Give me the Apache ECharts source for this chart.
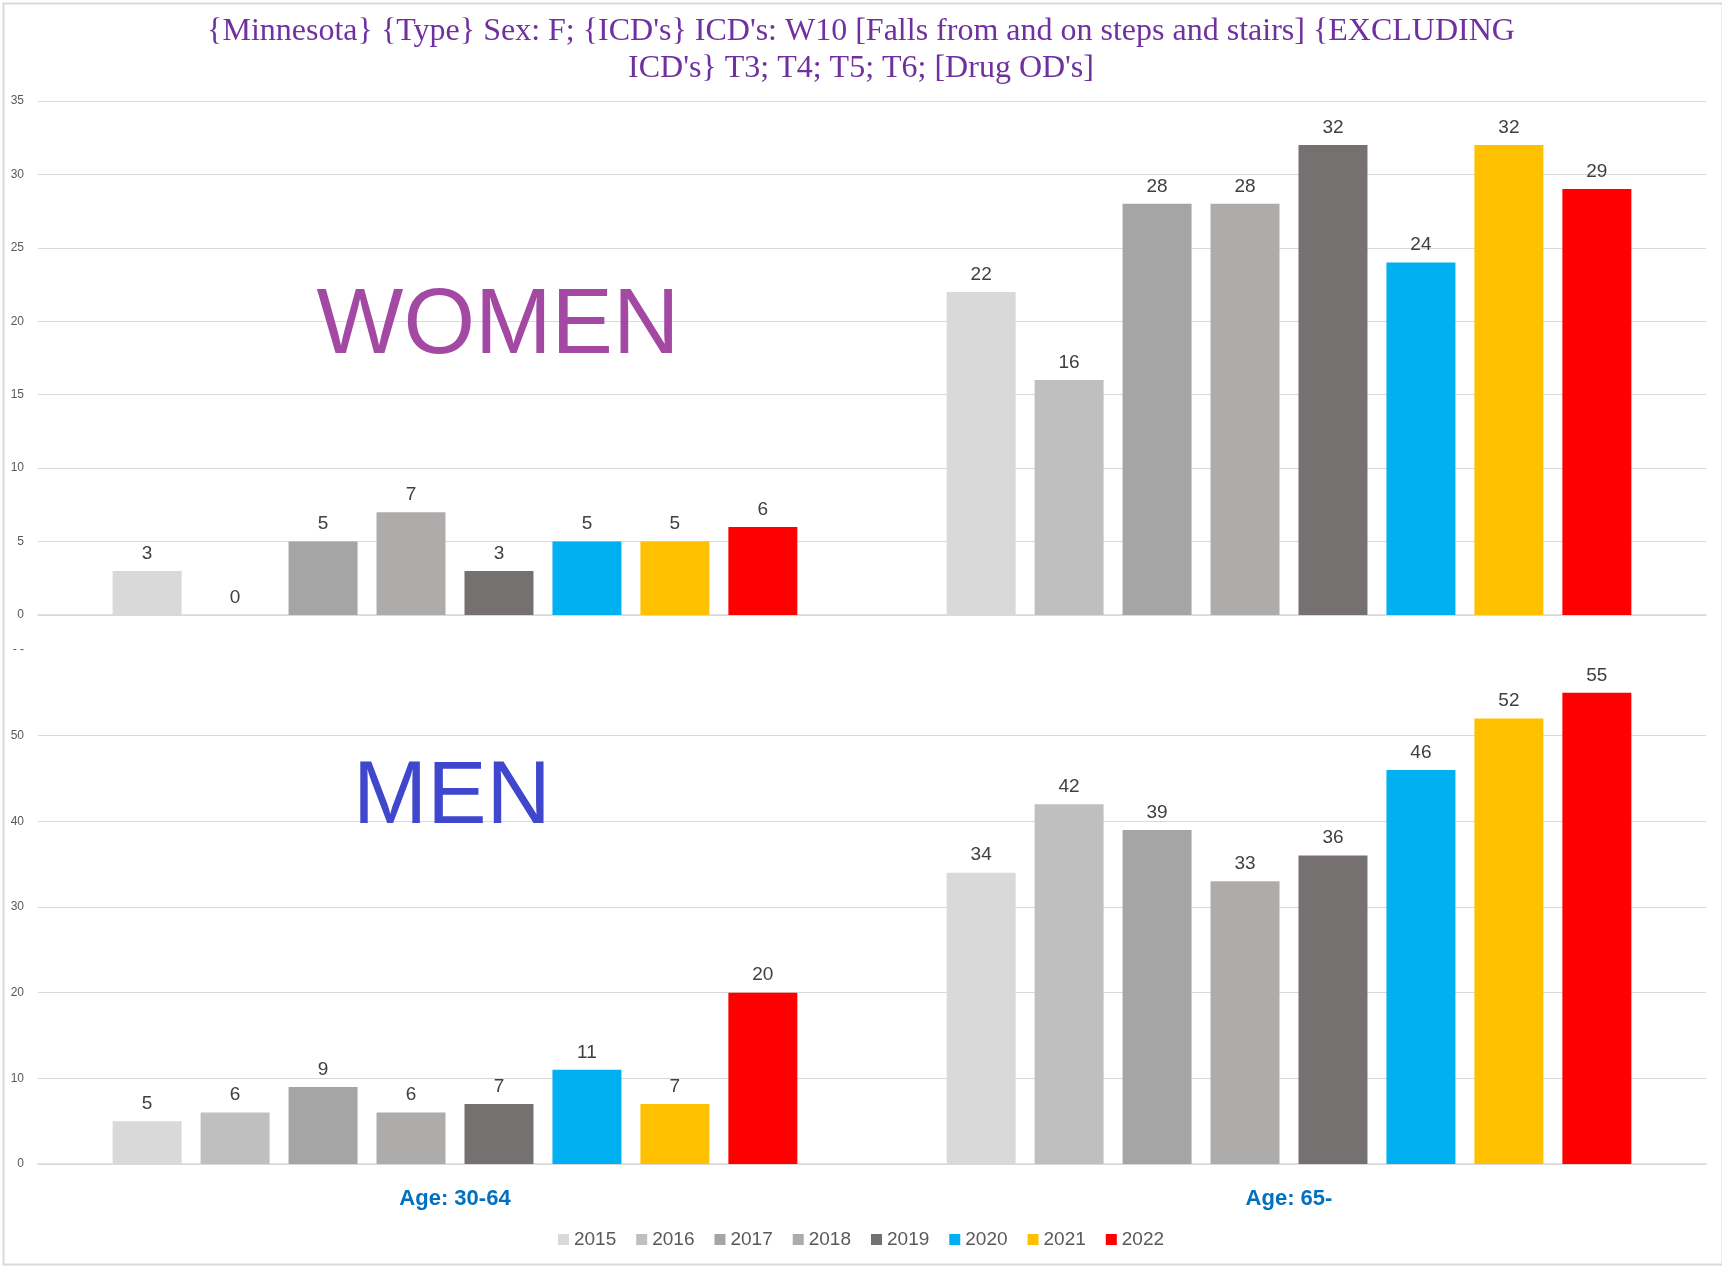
<!DOCTYPE html>
<html>
<head>
<meta charset="utf-8">
<script src="https://cdn.jsdelivr.net/npm/echarts@6/dist/echarts.min.js"></script>
<style>
html,body{margin:0;padding:0;background:#fff;}
#chart{width:1722px;height:1268px;}
</style>
</head>
<body>
<div id="chart"></div>
<script>
const titleText = "{Minnesota} {Type} Sex: F; {ICD's} ICD's: W10 [Falls from and on steps and stairs] {EXCLUDING\nICD's} T3; T4; T5; T6; [Drug OD's]";
const categories = ["Age: 30-64", "Age: 65-"];
const years = ["2015", "2016", "2017", "2018", "2019", "2020", "2021", "2022"];
const colors = ["#D9D9D9", "#BFBFBF", "#A5A5A5", "#AEABAB", "#757171", "#00B0F0", "#FFC000", "#FF0000"];
// values per year: [Age 30-64, Age 65-]
const women2015 = [3, 22];
const women2016 = [0, 16];
const women2017 = [5, 28];
const women2018 = [7, 28];
const women2019 = [3, 32];
const women2020 = [5, 24];
const women2021 = [5, 32];
const women2022 = [6, 29];
const men2015 = [5, 34];
const men2016 = [6, 42];
const men2017 = [9, 39];
const men2018 = [6, 33];
const men2019 = [7, 36];
const men2020 = [11, 46];
const men2021 = [7, 52];
const men2022 = [20, 55];
const womenTicks = [0, 5, 10, 15, 20, 25, 30, 35];
const menTicks = [0, 10, 20, 30, 40, 50, 60];

const womenData = [women2015, women2016, women2017, women2018, women2019, women2020, women2021, women2022];
const menData = [men2015, men2016, men2017, men2018, men2019, men2020, men2021, men2022];

const labelStyle = {
  show: true, position: 'top', distance: 8,
  color: '#404040', fontSize: 19, fontFamily: "'Liberation Sans Narrow', 'Liberation Sans', sans-serif"
};

const series = [];
years.forEach((y, i) => {
  series.push({
    name: y, type: 'bar', xAxisIndex: 0, yAxisIndex: 0,
    data: womenData[i], itemStyle: {color: colors[i]},
    barGap: '27.5%', barCategoryGap: '17.9%',
    label: labelStyle, animation: false
  });
});
years.forEach((y, i) => {
  series.push({
    name: y, type: 'bar', xAxisIndex: 1, yAxisIndex: 1,
    data: menData[i], itemStyle: {color: colors[i]},
    barGap: '27.5%', barCategoryGap: '17.9%',
    label: labelStyle, animation: false
  });
});

const axisLabelStyle = {color: '#595959', fontSize: 12, fontFamily: "'Liberation Sans', sans-serif", margin: 14};

const chart = echarts.init(document.getElementById('chart'), null, {renderer: 'canvas'});
chart.setOption({
  backgroundColor: '#ffffff',
  animation: false,
  title: {
    text: titleText, left: 'center', top: 8,
    textStyle: {color: '#7030A0', fontFamily: "'Liberation Serif', serif", fontSize: 32, lineHeight: 37, fontWeight: 'normal'}
  },
  legend: {
    data: years, bottom: 14, left: 'center',
    icon: 'rect', itemWidth: 11, itemHeight: 11, itemGap: 20,
    textStyle: {color: '#595959', fontSize: 19, fontFamily: "'Liberation Sans Narrow', 'Liberation Sans', sans-serif"}
  },
  grid: [
    {left: 38, width: 1668, top: 101, height: 514, containLabel: false},
    {left: 38, width: 1668, top: 650, height: 514, containLabel: false}
  ],
  xAxis: [
    {type: 'category', gridIndex: 0, data: categories,
     axisLine: {lineStyle: {color: '#D9D9D9', width: 1.5}}, axisTick: {show: false}, axisLabel: {show: false}},
    {type: 'category', gridIndex: 1, data: categories,
     axisLine: {lineStyle: {color: '#D9D9D9', width: 1.5}}, axisTick: {show: false},
     axisLabel: {color: '#0070C0', fontWeight: 'bold', fontSize: 22, fontFamily: "'Liberation Sans', sans-serif", margin: 24}}
  ],
  yAxis: [
    {type: 'value', gridIndex: 0, min: womenTicks[0], max: womenTicks[womenTicks.length - 1], interval: 5,
     axisLine: {show: false}, axisTick: {show: false},
     splitLine: {lineStyle: {color: '#D9D9D9', width: 1}},
     axisLabel: axisLabelStyle},
    {type: 'value', gridIndex: 1, min: menTicks[0], max: menTicks[menTicks.length - 1], interval: 10,
     axisLine: {show: false}, axisTick: {show: false},
     splitLine: {showMaxLine: false, lineStyle: {color: '#D9D9D9', width: 1}},
     axisLabel: Object.assign({}, axisLabelStyle, {formatter: v => v === 60 ? '- -' : String(v)})}
  ],
  graphic: [
    {type: 'rect', left: 1, top: 1, shape: {x: 0, y: 0, width: 1719, height: 1261},
     style: {fill: 'none', stroke: '#D9D9D9', lineWidth: 2}, silent: true, z: -1},
    {type: 'text', x: 498, y: 328, style: {text: 'WOMEN', fill: '#A349A4', font: "92px 'Liberation Sans', sans-serif", textAlign: 'center', textVerticalAlign: 'middle'}, z: 10},
    {type: 'text', x: 452, y: 798, style: {text: 'MEN', fill: '#3F48CC', font: "89px 'Liberation Sans', sans-serif", textAlign: 'center', textVerticalAlign: 'middle'}, z: 10}
  ],
  series: series
});
</script>
</body>
</html>
